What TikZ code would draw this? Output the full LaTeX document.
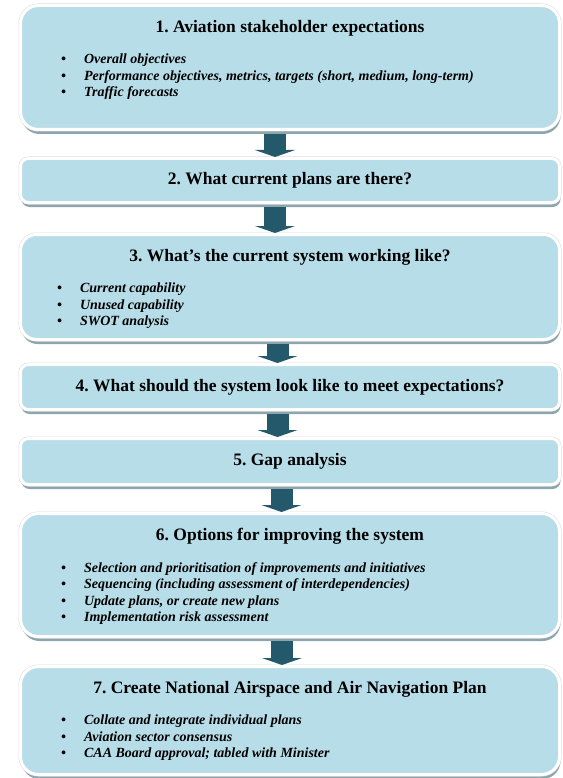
\documentclass[tikz,border=0pt]{standalone}
\usepackage{fontspec}
\setmainfont{Liberation Serif}
\usetikzlibrary{positioning,shadows,arrows.meta}

\definecolor{stageblue}{HTML}{B7DDE8}
\definecolor{stagearrow}{HTML}{23596A}
\definecolor{stageshadow}{HTML}{8DA5AE}
\newcommand{\itm}{\textbullet\hspace{18pt}}
\frenchspacing

\begin{document}
\begin{tikzpicture}
[
    x=1pt, y=1pt,
    stage/.style={draw=white, line width=3pt, fill=stageblue, rounded corners=#1,
        minimum width=539pt, inner sep=0pt,
        drop shadow={shadow xshift=1pt, shadow yshift=-4.5pt, fill=stageshadow, opacity=1},
        preaction={draw=black!15, line width=4pt},
        font=\fontsize{17.5}{20}\selectfont\bfseries},
    stage/.default=8pt,
    heading/.style={font=\fontsize{17.5}{20}\selectfont\bfseries, inner sep=0pt},
    points/.style={font=\fontsize{14}{16.5}\selectfont\bfseries\itshape, align=left,
        inner sep=0pt, anchor=north west},
    flow/.style={line width=22pt, draw=stagearrow, -{Triangle[width=40pt, length=7pt]},
        shorten <=3pt},
]
\useasboundingbox (0,0) rectangle (562,-778);

\node [stage=18pt, minimum height=124pt] (s1) at (290,-67.5) {};
\node [heading] (h1) at ([yshift=-24pt]s1.north) {1. Aviation stakeholder expectations};
\node [points] (p1) at ([xshift=42pt, yshift=-50pt]s1.north west)
{\itm Overall objectives\\
 \itm Performance objectives, metrics, targets (short, medium, long-term)\\
 \itm Traffic forecasts};

\node [stage, minimum height=44pt, below=26pt of s1] (s2) {2. What current plans are there?};

\node [stage=16pt, minimum height=105pt, below=29pt of s2] (s3) {};
\node [heading] (h3) at ([yshift=-24pt]s3.north) {3. What's the current system working like?};
\node [points] (p3) at ([xshift=38pt, yshift=-50pt]s3.north west)
{\itm Current capability\\
 \itm Unused capability\\
 \itm SWOT analysis};

\node [stage, minimum height=45pt, below=22pt of s3] (s4) {4. What should the system look like to meet expectations?};

\node [stage, minimum height=46pt, below=26pt of s4] (s5) {5. Gap analysis};

\node [stage=18pt, minimum height=123pt, below=26pt of s5] (s6) {};
\node [heading] (h6) at ([yshift=-24pt]s6.north) {6. Options for improving the system};
\node [points] (p6) at ([xshift=42pt, yshift=-50pt]s6.north west)
{\itm Selection and prioritisation of improvements and initiatives\\
 \itm Sequencing (including assessment of interdependencies)\\
 \itm Update plans, or create new plans\\
 \itm Implementation risk assessment};

\node [stage=18pt, minimum height=108pt, below=27pt of s6] (s7) {};
\node [heading] (h7) at ([yshift=-24pt]s7.north) {7. Create National Airspace and Air Navigation Plan};
\node [points] (p7) at ([xshift=42pt, yshift=-50pt]s7.north west)
{\itm Collate and integrate individual plans\\
 \itm Aviation sector consensus\\
 \itm CAA Board approval; tabled with Minister};

% arrows between the stages
\draw [flow] ([xshift=-15pt]s1.south) -- ([xshift=-15pt]s2.north);
\draw [flow] ([xshift=-15pt]s2.south) -- ([xshift=-15pt]s3.north);
\draw [flow] ([xshift=-12.5pt]s3.south) -- ([xshift=-12.5pt]s4.north);
\draw [flow] ([xshift=-12.5pt]s4.south) -- ([xshift=-12.5pt]s5.north);
\draw [flow] ([xshift=-8.5pt]s5.south) -- ([xshift=-8.5pt]s6.north);
\draw [flow] ([xshift=-8pt]s6.south) -- ([xshift=-8pt]s7.north);
\end{tikzpicture}
\end{document}
